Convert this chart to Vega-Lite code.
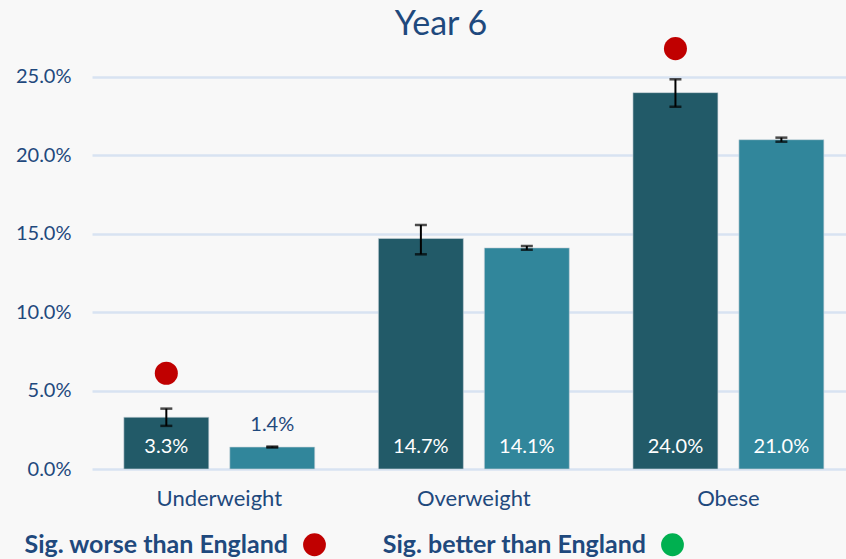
{
  "$schema": "https://vega.github.io/schema/vega-lite/v6.json",
  "autosize": "none",
  "width": 754,
  "height": 430,
  "padding": {"left": 92, "top": 39, "right": 0, "bottom": 90},
  "background": "#f8f8f8",
  "config": {
    "view": {"stroke": null},
    "font": "Lato",
    "axis": {"labelFont": "Lato", "labelColor": "#1F497D"},
    "legend": {"labelFont": "Lato"}
  },
  "title": {
    "text": "Year 6",
    "fontSize": 34,
    "font": "Lato",
    "fontWeight": "normal",
    "color": "#1F497D",
    "anchor": "middle",
    "baseline": "alphabetic",
    "offset": 2,
    "dy": 34,
    "dx": -28
  },
  "data": {
    "values": [
      {"cat": "Underweight", "area": "Local", "value": 0.033, "lo": 0.0275, "hi": 0.0385, "sig": "Sig. worse than England"},
      {"cat": "Underweight", "area": "England", "value": 0.014, "lo": 0.0137, "hi": 0.0143, "sig": null},
      {"cat": "Overweight", "area": "Local", "value": 0.147, "lo": 0.1369, "hi": 0.1556, "sig": null},
      {"cat": "Overweight", "area": "England", "value": 0.141, "lo": 0.1398, "hi": 0.1422, "sig": null},
      {"cat": "Obese", "area": "Local", "value": 0.240, "lo": 0.2310, "hi": 0.2485, "sig": "Sig. worse than England"},
      {"cat": "Obese", "area": "England", "value": 0.210, "lo": 0.2087, "hi": 0.2113, "sig": null}
    ]
  },
  "encoding": {
    "x": {
      "field": "cat",
      "type": "nominal",
      "sort": ["Underweight", "Overweight", "Obese"],
      "scale": {"paddingInner": 0.25, "paddingOuter": 0.106, "align": 0.59},
      "axis": {"title": null, "labelAngle": 0, "labelFontSize": 22, "labelPadding": 19, "ticks": false, "domain": false, "grid": false}
    },
    "xOffset": {
      "field": "area",
      "type": "nominal",
      "sort": ["Local", "England"],
      "scale": {"paddingInner": 0.198, "paddingOuter": 0}
    }
  },
  "layer": [
    {
      "mark": {"type": "bar", "stroke": "#c9d3da", "strokeWidth": 0.6},
      "encoding": {
        "y": {
          "field": "value",
          "type": "quantitative",
          "scale": {"domain": [0, 0.2742], "nice": false},
          "axis": {
            "title": null,
            "values": [0, 0.05, 0.1, 0.15, 0.2, 0.25],
            "format": ".1%",
            "labelFontSize": 20,
            "labelPadding": 21,
            "ticks": false,
            "domain": false,
            "gridColor": "#d8e3f2",
            "gridWidth": 2.5
          }
        },
        "color": {
          "field": "area",
          "type": "nominal",
          "scale": {"domain": ["Local", "England"], "range": ["#225a68", "#31869b"]},
          "legend": null
        }
      }
    },
    {
      "mark": {"type": "rule", "color": "black", "strokeWidth": 2},
      "encoding": {
        "y": {"field": "lo", "type": "quantitative"},
        "y2": {"field": "hi"}
      }
    },
    {
      "mark": {"type": "tick", "color": "black", "size": 12, "thickness": 2.5},
      "encoding": {"y": {"field": "lo", "type": "quantitative"}}
    },
    {
      "mark": {"type": "tick", "color": "black", "size": 12, "thickness": 2.5},
      "encoding": {"y": {"field": "hi", "type": "quantitative"}}
    },
    {
      "transform": [{"filter": "datum.value > 0.02"}],
      "mark": {"type": "text", "color": "white", "fontSize": 20, "baseline": "alphabetic", "dy": -16},
      "encoding": {
        "y": {"datum": 0, "type": "quantitative"},
        "text": {"field": "value", "type": "quantitative", "format": ".1%"}
      }
    },
    {
      "transform": [{"filter": "datum.value <= 0.02"}],
      "mark": {"type": "text", "color": "#1F497D", "fontSize": 20, "baseline": "alphabetic", "dy": -16},
      "encoding": {
        "y": {"field": "value", "type": "quantitative"},
        "text": {"field": "value", "type": "quantitative", "format": ".1%"}
      }
    },
    {
      "transform": [{"filter": "datum.sig != null"}],
      "mark": {"type": "point", "shape": "circle", "filled": true, "opacity": 1, "size": 530},
      "encoding": {
        "y": {"field": "value", "type": "quantitative"},
        "yOffset": {"value": -44},
        "color": {
          "field": "sig",
          "type": "nominal",
          "scale": {"domain": ["Sig. worse than England", "Sig. better than England"], "range": ["#c00000", "#00b050"]},
          "legend": {
            "title": null,
            "orient": "none",
            "legendX": 210,
            "legendY": 493,
            "direction": "horizontal",
            "symbolType": "circle",
            "symbolSize": 520,
            "symbolStrokeWidth": 0,
            "symbolOpacity": 1,
            "labelFontSize": 25,
            "labelFontWeight": "bold",
            "labelColor": "#1F497D",
            "labelAlign": "right",
            "labelOffset": -39,
            "labelLimit": 400,
            "columnPadding": 56
          }
        }
      }
    }
  ],
  "resolve": {"scale": {"color": "independent"}}
}
